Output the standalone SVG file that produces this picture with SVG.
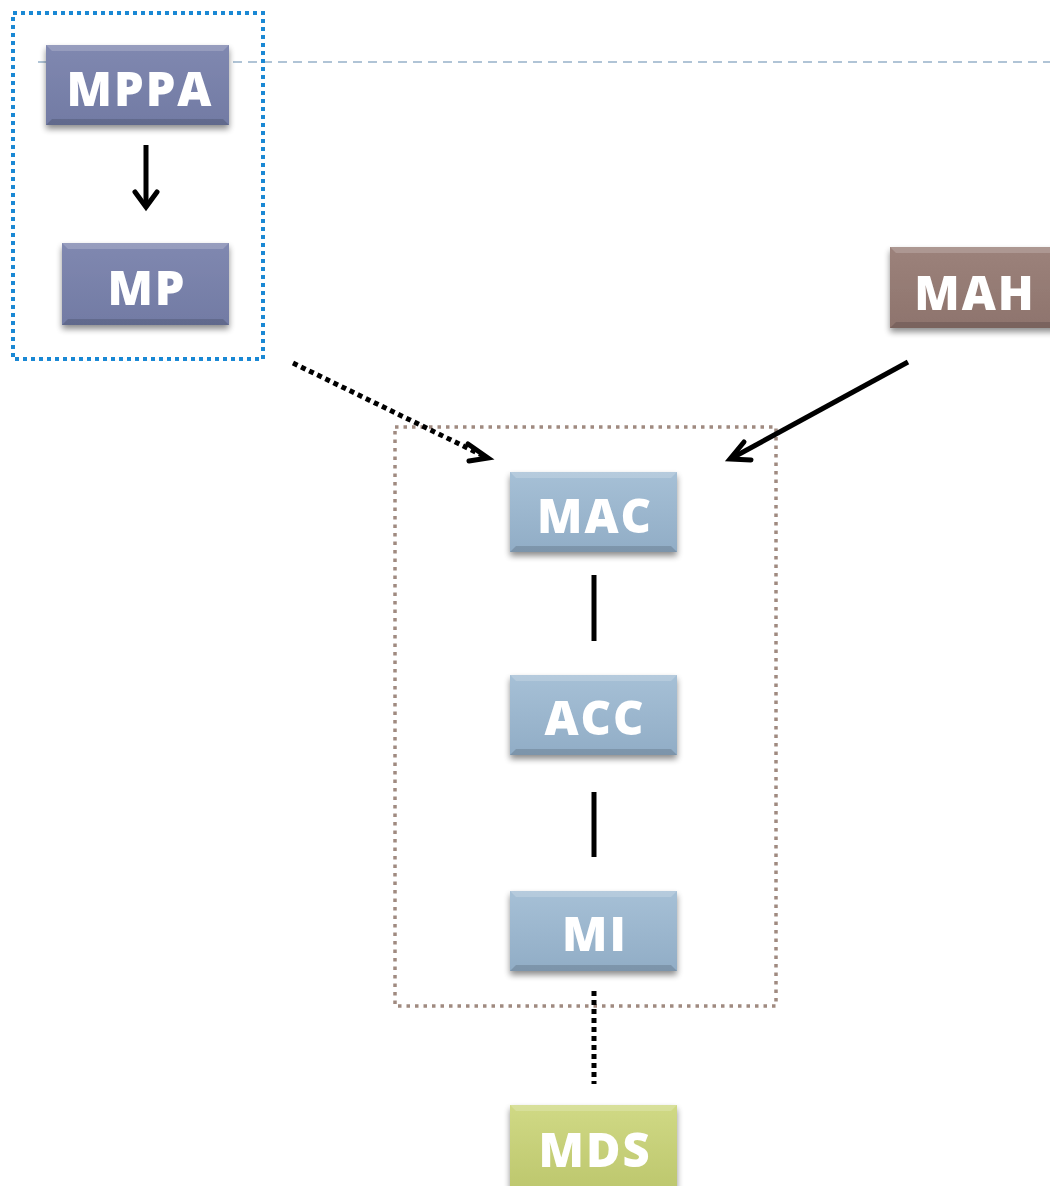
<svg xmlns="http://www.w3.org/2000/svg" width="1050" height="1186" viewBox="0 0 1050 1186">
  <defs>
    <filter id="shadow" x="-20%" y="-20%" width="140%" height="150%">
      <feGaussianBlur in="SourceAlpha" stdDeviation="3"/>
      <feOffset dx="0" dy="4" result="b"/>
      <feComponentTransfer><feFuncA type="linear" slope="0.45"/></feComponentTransfer>
      <feMerge><feMergeNode/><feMergeNode in="SourceGraphic"/></feMerge>
    </filter>
    <linearGradient id="gPurple" x1="0" y1="0" x2="0" y2="1">
      <stop offset="0" stop-color="#8088b0"/>
      <stop offset="1" stop-color="#727ba4"/>
    </linearGradient>
    <linearGradient id="gBrown" x1="0" y1="0" x2="0" y2="1">
      <stop offset="0" stop-color="#9c827b"/>
      <stop offset="1" stop-color="#8e746d"/>
    </linearGradient>
    <linearGradient id="gBlue" x1="0" y1="0" x2="0" y2="1">
      <stop offset="0" stop-color="#a6c0d6"/>
      <stop offset="1" stop-color="#91adc6"/>
    </linearGradient>
    <linearGradient id="gGreen" x1="0" y1="0" x2="0" y2="1">
      <stop offset="0" stop-color="#d0d985"/>
      <stop offset="1" stop-color="#bcc66c"/>
    </linearGradient>
    <style>
      .lbl { font-family: "Open Sans", "Liberation Sans", sans-serif; font-weight: 800; font-size: 47px; letter-spacing: 2px; fill: #ffffff; text-anchor: middle; }
      .bevelTop { fill: #ffffff; opacity: 0.18; }
      .bevelBot { fill: #000000; opacity: 0.14; }
      .solid { stroke: #000000; stroke-width: 5; fill: none; }
      .dots { stroke: #000000; stroke-width: 5; fill: none; stroke-dasharray: 5 4; }
      .head { stroke: #000000; stroke-width: 5; fill: none; stroke-linecap: round; stroke-linejoin: miter; }
    </style>
  </defs>

  <rect width="1050" height="1186" fill="#ffffff"/>

  <!-- guide line -->
  <line x1="38" y1="62" x2="1050" y2="62" stroke="#b0c4d6" stroke-width="2" stroke-dasharray="9 6"/>

  <!-- group frames -->
  <rect id="frame-mp" x="13" y="13" width="250" height="346" fill="none" stroke="#1a88d4" stroke-width="4" stroke-dasharray="4 4"/>
  <rect id="frame-mac" x="395" y="427" width="381" height="579" fill="none" stroke="#a08a80" stroke-width="3.5" stroke-dasharray="3.5 5"/>

  <!-- nodes -->
  <g id="node-mppa" filter="url(#shadow)">
    <rect x="46" y="45" width="183" height="80" fill="url(#gPurple)"/>
    <polygon class="bevelTop" points="46,45 229,45 223,51 52,51"/>
    <polygon class="bevelBot" points="46,125 229,125 223,119 52,119"/>
    <text class="lbl" x="140" y="106">MPPA</text>
  </g>
  <g id="node-mp" filter="url(#shadow)">
    <rect x="62" y="243" width="167" height="82" fill="url(#gPurple)"/>
    <polygon class="bevelTop" points="62,243 229,243 223,249 68,249"/>
    <polygon class="bevelBot" points="62,325 229,325 223,319 68,319"/>
    <text class="lbl" x="147" y="305">MP</text>
  </g>
  <g id="node-mah" filter="url(#shadow)">
    <rect x="890" y="247" width="175" height="81" fill="url(#gBrown)"/>
    <polygon class="bevelTop" points="890,247 1065,247 1059,253 896,253"/>
    <polygon class="bevelBot" points="890,328 1065,328 1059,322 896,322"/>
    <text class="lbl" x="975" y="310">MAH</text>
  </g>
  <g id="node-mac" filter="url(#shadow)">
    <rect x="510" y="472" width="167" height="80" fill="url(#gBlue)"/>
    <polygon class="bevelTop" points="510,472 677,472 671,478 516,478"/>
    <polygon class="bevelBot" points="510,552 677,552 671,546 516,546"/>
    <text class="lbl" x="595" y="533">MAC</text>
  </g>
  <g id="node-acc" filter="url(#shadow)">
    <rect x="510" y="675" width="167" height="80" fill="url(#gBlue)"/>
    <polygon class="bevelTop" points="510,675 677,675 671,681 516,681"/>
    <polygon class="bevelBot" points="510,755 677,755 671,749 516,749"/>
    <text class="lbl" x="595" y="735">ACC</text>
  </g>
  <g id="node-mi" filter="url(#shadow)">
    <rect x="510" y="891" width="167" height="80" fill="url(#gBlue)"/>
    <polygon class="bevelTop" points="510,891 677,891 671,897 516,897"/>
    <polygon class="bevelBot" points="510,971 677,971 671,965 516,965"/>
    <text class="lbl" x="595" y="951">MI</text>
  </g>
  <g id="node-mds" filter="url(#shadow)">
    <rect x="510" y="1105" width="167" height="90" fill="url(#gGreen)"/>
    <polygon class="bevelTop" points="510,1105 677,1105 671,1111 516,1111"/>
    <text class="lbl" x="595" y="1167">MDS</text>
  </g>

  <!-- connectors -->
  <g id="connectors">
    <line class="solid" x1="146" y1="145" x2="146" y2="207"/>
    <polyline class="head" points="135,192 146,207 157,192"/>

    <line class="dots" x1="293" y1="363" x2="486" y2="457"/>
    <polyline class="head" points="468,444 488,458 469,461"/>

    <line class="solid" x1="908" y1="362" x2="732" y2="458"/>
    <polyline class="head" points="744,442 730,459 751,460"/>

    <line class="solid" x1="594" y1="575" x2="594" y2="641"/>
    <line class="solid" x1="594" y1="792" x2="594" y2="857"/>

    <line class="dots" x1="594" y1="991" x2="594" y2="1084"/>
  </g>
</svg>
